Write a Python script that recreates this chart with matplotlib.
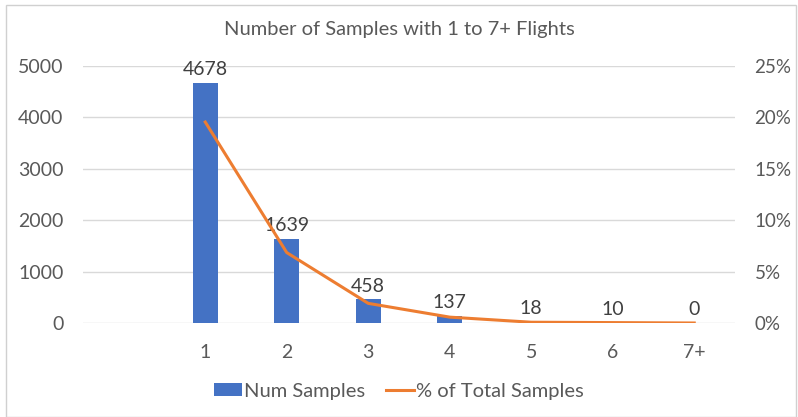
import matplotlib.pyplot as plt
from matplotlib.patches import Rectangle
from matplotlib.ticker import FuncFormatter

# Flight-count categories (leading blank slot keeps Excel's empty first column)
categories = ["", "1", "2", "3", "4", "5", "6", "7+"]
num_samples = [None, 4678, 1639, 458, 137, 18, 10, 0]
pct_total = [None, 19.55, 6.85, 1.91, 0.57, 0.075, 0.04, 0.0]

bar_color = "#4472C4"
line_color = "#ED7D31"
text_color = "#595959"
grid_color = "#D9D9D9"

plt.rcParams['font.family'] = ['Lato', 'DejaVu Sans']

fig = plt.figure(figsize=(7.98, 4.17), dpi=100)
fig.patches.append(Rectangle((0.008, 0.0), 0.99, 0.988, transform=fig.transFigure,
                             fill=False, edgecolor="#D0D0D0", linewidth=1.0))

ax = fig.add_axes([83 / 798, 1 - 323 / 417, 652 / 798, 257 / 417])
ax2 = ax.twinx()

x = list(range(len(categories)))
bx = [i for i, v in zip(x, num_samples) if v is not None]
bv = [v for v in num_samples if v is not None]
bars = ax.bar(bx, bv, width=0.31, color=bar_color, zorder=3, label="Num Samples")
for xi, v in zip(bx, bv):
    ax.text(xi, v + 90, str(v), ha="center", va="bottom", fontsize=14,
            color="#404040", zorder=5)

px = [i for i, v in zip(x, pct_total) if v is not None]
pv = [v for v in pct_total if v is not None]
line, = ax2.plot(px, pv, color=line_color, linewidth=2.2, zorder=4,
                 label="% of Total Samples", solid_joinstyle="round")

ax.set_xlim(-0.5, len(categories) - 0.5)
ax.set_ylim(0, 5000)
ax2.set_ylim(0, 25)
ax.set_yticks(range(0, 5001, 1000))
ax2.set_yticks(range(0, 26, 5))
ax2.yaxis.set_major_formatter(FuncFormatter(lambda v, _: f"{int(v)}%"))

ax.set_xticks(x)
ax.set_xticklabels(categories)
ax.grid(axis="y", color=grid_color, linewidth=1.0, zorder=0)
ax.set_axisbelow(True)

for a in (ax, ax2):
    for s in a.spines.values():
        s.set_visible(False)
    a.tick_params(length=0, labelsize=14, colors=text_color)
ax.tick_params(axis="y", pad=14)
ax2.tick_params(axis="y", labelsize=13.5, pad=14)
ax.tick_params(axis="x", pad=15)

fig.text(0.5, 1 - 30 / 417, "Number of Samples with 1 to 7+ Flights",
         ha="center", va="center", fontsize=14.5, color=text_color)

fig.legend([bars, line], ["Num Samples", "% of Total Samples"],
           loc="center", bbox_to_anchor=(0.5, 1 - 391 / 417), ncol=2,
           frameon=False, fontsize=14.5, labelcolor=text_color,
           handlelength=1.4, handleheight=0.6, handletextpad=0.1,
           columnspacing=1.0)

fig.savefig("out.png", dpi=100)
